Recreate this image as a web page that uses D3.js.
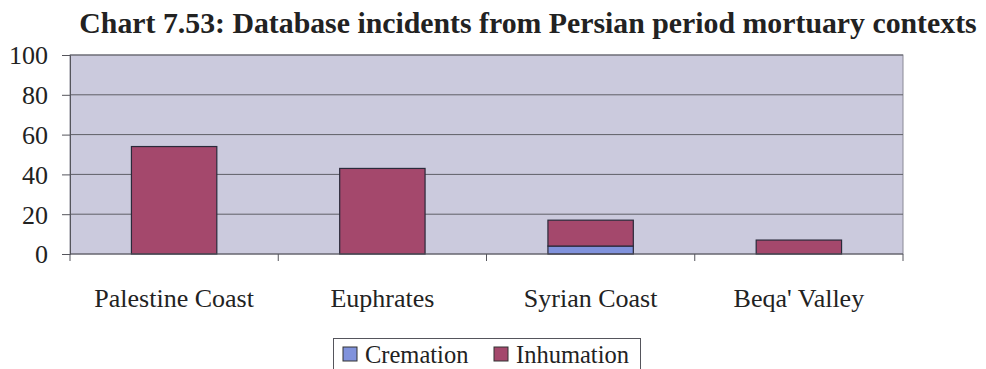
<!DOCTYPE html>
<html>
<head>
<meta charset="utf-8">
<script src="https://cdn.jsdelivr.net/npm/d3@7"></script>
<style>
  html, body { margin: 0; padding: 0; background: #ffffff; }
  svg { display: block; font-family: "Liberation Serif", "Times New Roman", serif; }
</style>
</head>
<body>
<svg id="chart" width="986" height="369"></svg>
<script>
// Incidents per region, split by burial practice
const regions = ["Palestine Coast", "Euphrates", "Syrian Coast", "Beqa' Valley"];
const cremation = [0, 0, 4, 0];
const inhumation = [54, 43, 13, 7];
const seriesNames = ["Cremation", "Inhumation"];
const seriesColors = ["#8092dc", "#a4486c"];
const yTicks = [0, 20, 40, 60, 80, 100];

const svg = d3.select("#chart");
const plot = { left: 70, right: 903, top: 55, bottom: 254 };

const x = d3.scaleBand().domain(regions).range([plot.left, plot.right]).paddingInner(0.59).paddingOuter(0.295);
const y = d3.scaleLinear().domain([0, 100]).range([plot.bottom, plot.top]);

// Plot area background
svg.append("rect")
  .attr("x", plot.left).attr("y", plot.top)
  .attr("width", plot.right - plot.left).attr("height", plot.bottom - plot.top)
  .attr("fill", "#cbcadd").attr("stroke", "#8a8a96").attr("stroke-width", 1);

// Horizontal gridlines
svg.append("g").selectAll("line").data(yTicks.filter(t => t > 0)).join("line")
  .attr("x1", plot.left).attr("x2", plot.right)
  .attr("y1", d => y(d)).attr("y2", d => y(d))
  .attr("stroke", "#5f5f66").attr("stroke-width", 1);

// Stacked bars
const rows = regions.map((r, i) => ({ region: r, Cremation: cremation[i], Inhumation: inhumation[i] }));
const stack = d3.stack().keys(seriesNames)(rows);
svg.append("g").selectAll("g").data(stack).join("g")
  .attr("fill", (d, i) => seriesColors[i])
  .selectAll("rect").data(d => d.filter(s => s[1] - s[0] > 0)).join("rect")
  .attr("x", d => x(d.data.region))
  .attr("width", x.bandwidth())
  .attr("y", d => y(d[1]))
  .attr("height", d => y(d[0]) - y(d[1]))
  .attr("stroke", "#2a2a3a").attr("stroke-width", 1.2);

// Y axis
const yAxis = svg.append("g").attr("transform", `translate(${plot.left},0)`)
  .call(d3.axisLeft(y).tickValues(yTicks).tickSize(8).tickPadding(14));
yAxis.select(".domain").attr("stroke", "#55555c");
yAxis.selectAll(".tick line").attr("stroke", "#55555c");
yAxis.selectAll("text").attr("font-size", 26).attr("dy", "0.34em").attr("fill", "#222").attr("font-family", "Liberation Serif, serif");

// X axis with category boundary ticks
const xAxis = svg.append("g").attr("transform", `translate(0,${plot.bottom})`);
xAxis.append("line").attr("x1", plot.left).attr("x2", plot.right).attr("stroke", "#55555c");
const edges = d3.range(regions.length + 1).map(i => plot.left + i * (plot.right - plot.left) / regions.length);
xAxis.selectAll(".edge").data(edges).join("line")
  .attr("x1", d => d).attr("x2", d => d).attr("y1", 0).attr("y2", 7)
  .attr("stroke", "#55555c");
xAxis.selectAll("text").data(regions).join("text")
  .attr("x", d => x(d) + x.bandwidth() / 2)
  .attr("y", 53)
  .attr("text-anchor", "middle")
  .attr("font-size", 26).attr("fill", "#222")
  .text(d => d);

// Title
svg.append("text")
  .attr("x", 528).attr("y", 33)
  .attr("text-anchor", "middle")
  .attr("font-size", 29.8).attr("font-weight", "bold").attr("fill", "#222")
  .text("Chart 7.53: Database incidents from Persian period mortuary contexts");

// Legend
const legend = svg.append("g");
legend.append("rect").attr("x", 333.5).attr("y", 338.5).attr("width", 307).attr("height", 40)
  .attr("fill", "#ffffff").attr("stroke", "#55555c");
const legendItems = [{ name: seriesNames[0], color: seriesColors[0], x: 343 }, { name: seriesNames[1], color: seriesColors[1], x: 494 }];
legendItems.forEach(it => {
  legend.append("rect").attr("x", it.x).attr("y", 347).attr("width", 14).attr("height", 14)
    .attr("fill", it.color).attr("stroke", "#333");
  legend.append("text").attr("x", it.x + 22).attr("y", 363)
    .attr("font-size", 24.5).attr("fill", "#222").text(it.name);
});
</script>
</body>
</html>
